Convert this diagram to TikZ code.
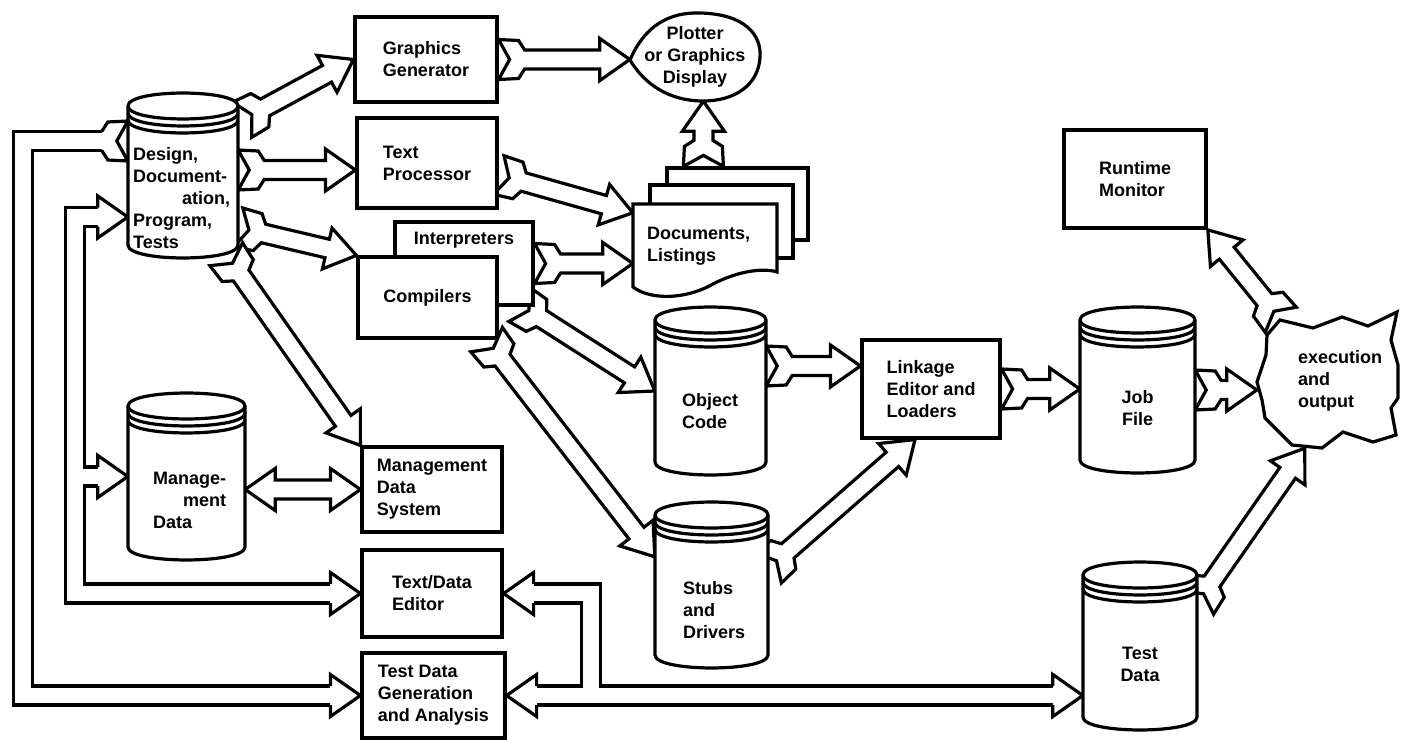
\documentclass[tikz,border=0pt]{standalone}
\usepackage{fontspec}
\setmainfont{Liberation Sans}
\usetikzlibrary{calc,decorations.markings}
\pgfdeclarelayer{bg}
\pgfsetlayers{bg,main}
\newcommand\lbl{\fontsize{18}{22}\selectfont\bfseries}
\newcommand\fatTH{%
  \pgfmathsetmacro\fahl{\pgfdecoratedpathlength/2}%
  \draw[ln, fill=white] (-\fahl,20) -- (-\fahl+20,19) -- (-\fahl+26,9.5) -- (\fahl-30,9.5) -- (\fahl-30,21) -- (\fahl,0) -- (\fahl-30,-21) -- (\fahl-30,-9.5) -- (-\fahl+26,-9.5) -- (-\fahl+20,-19) -- (-\fahl,-20) -- (-\fahl+11,0) -- cycle;}
\newcommand\fatHH{%
  \pgfmathsetmacro\fahl{\pgfdecoratedpathlength/2}%
  \draw[ln, fill=white] (-\fahl,0) -- (-\fahl+30,21) -- (-\fahl+30,9.5) -- (\fahl-30,9.5) -- (\fahl-30,21) -- (\fahl,0) -- (\fahl-30,-21) -- (\fahl-30,-9.5) -- (-\fahl+30,-9.5) -- (-\fahl+30,-21) -- cycle;}
\tikzset{
  ln/.style={line width=3.2pt, line join=miter},
  box/.style={ln, draw, fill=white, align=left, font=\lbl, inner sep=0pt},
  page/.style={ln, draw, fill=white, inner sep=0pt},
  txt/.style={align=left, font=\lbl, inner sep=0pt},
  fatarrow/.style={decoration={markings, mark=at position 0.5 with {\fatTH}}, decorate},
  fatdouble/.style={decoration={markings, mark=at position 0.5 with {\fatHH}}, decorate},
  busk/.style={line width=22.2pt, line join=miter},
  busw/.style={white, line width=15.8pt, line join=miter},
  bhead/.pic={\draw[ln, fill=white] (-30,9.5) -- (-30,21) -- (0,0) -- (-30,-21) -- (-30,-9.5);},
  btail/.pic={\draw[ln, fill=white] (26,9.5) -- (20,19) -- (0,20) -- (11,0) -- (0,-20) -- (20,-19) -- (26,-9.5);},
}
\newcommand\cylinder[5]{%
  \pgfmathsetmacro\cyL{#2-#4/2}%
  \pgfmathsetmacro\cyR{#2+#4/2}%
  \pgfmathsetmacro\cyT{#3+13}%
  \pgfmathsetmacro\cyB{#3+#5-13}%
  \draw[ln, fill=white] (\cyL,\cyT) .. controls (\cyL,\cyT-17.3) and (\cyR,\cyT-17.3) .. (\cyR,\cyT) -- (\cyR,\cyB) .. controls (\cyR,\cyB+17.3) and (\cyL,\cyB+17.3) .. (\cyL,\cyB) -- cycle;
  \draw[ln] (\cyL,\cyT) .. controls (\cyL,\cyT+17.3) and (\cyR,\cyT+17.3) .. (\cyR,\cyT);
  \draw[ln] (\cyL,\cyT+7) .. controls (\cyL,\cyT+24.3) and (\cyR,\cyT+24.3) .. (\cyR,\cyT+7);
  \draw[ln] (\cyL,\cyT+14) .. controls (\cyL,\cyT+31.3) and (\cyR,\cyT+31.3) .. (\cyR,\cyT+14);
  \node[inner sep=0pt, minimum width=#4pt, minimum height=#5pt] (#1) at (#2,{#3+#5/2}) {};
}
\begin{document}
\begin{tikzpicture}[x=1pt,y=-1pt]
\useasboundingbox (0,0) rectangle (1401,741);
% boxes
\node[box, minimum width=138pt, minimum height=83pt] (interp) at (464,263.5) {};
\node[txt] (interpt) at (464,240) {Interpreters};
\node[box, minimum width=139pt, minimum height=81pt] (comp) at (427.5,297.5) {Compilers};
\node[box, minimum width=142pt, minimum height=85pt] (gg) at (426,59.5) {Graphics\\Generator};
\node[box, minimum width=140pt, minimum height=90pt] (tp) at (427,163) {Text\\Processor};
\node[box, minimum width=140pt, minimum height=85pt] (mds) at (432,489.5) {Management\\Data\\System};
\node[box, minimum width=140pt, minimum height=87pt] (tde) at (432,593.5) {Text/Data\\Editor};
\node[box, minimum width=143pt, minimum height=85pt] (tdg) at (433.5,695.5) {Test Data\\Generation\\and Analysis};
\node[box, minimum width=138pt, minimum height=98pt] (link) at (931,389) {Linkage\\Editor and\\Loaders};
\node[box, minimum width=142pt, minimum height=98pt] (rm) at (1135,179) {Runtime\\Monitor};
% cylinders
\cylinder{db}{183}{93}{110}{165}
\cylinder{md}{186.5}{393}{117}{167}
\cylinder{oc}{710.5}{307}{111}{168}
\cylinder{stubs}{711.5}{502}{113}{166}
\cylinder{job}{1137.5}{307}{115}{166}
\cylinder{td}{1140}{562}{114}{168}
\node[txt, anchor=west] (dbt) at (133,198) {Design,\\Document-\\\hspace*{49pt}ation,\\Program,\\Tests};
\node[txt, anchor=west] (mdt) at (153,500) {Manage-\\\hspace*{30pt}ment\\Data};
\node[txt, anchor=west] (oct) at (682,411) {Object\\Code};
\node[txt, anchor=west] (stt) at (683,610) {Stubs\\and\\Drivers};
\node[txt, align=center] (jobt) at (1137.5,408) {Job\\File};
\node[txt, align=center] (tdt) at (1140,664) {Test\\Data};
% documents
\node[page, minimum width=141pt, minimum height=72pt] (pg3) at (737.5,204) {};
\node[page, minimum width=143pt, minimum height=73pt] (pg2) at (721.5,221.5) {};
\draw[ln, fill=white] (633,204) -- (777,204) -- (777,272) .. controls (765,268) and (740,270) .. (713,284) .. controls (685,300) and (650,300) .. (633,287) -- cycle;
\node[inner sep=0pt, minimum width=144pt, minimum height=88pt] (doc1) at (705,248) {};
\node[txt, anchor=west] (doct) at (647,246) {Documents,\\Listings};
% plotter
\draw[ln, fill=white] (630,60) .. controls (645,25) and (670,12) .. (700,13) .. controls (745,14) and (762,35) .. (760,58) .. controls (758,85) and (735,101) .. (703,101) .. controls (670,101) and (645,85) .. (630,60) -- cycle;
\node[txt, align=center, minimum width=130pt, minimum height=88pt] (plot) at (695,57) {Plotter\\or Graphics\\Display};
% execution
\draw[ln, fill=white] (1280,320) -- (1313,328) -- (1342,317) -- (1368,326) -- (1397,312) -- (1391,340) -- (1398,365) -- (1398,398) -- (1391,408) -- (1396,435) -- (1373,442) -- (1343,432) -- (1322,448) -- (1292,445) -- (1265,418) -- (1262,400) -- (1257,382) -- (1266,355) -- (1267,335) -- cycle;
\node[inner sep=0pt, minimum width=144pt, minimum height=136pt] (exec) at (1329,380) {};
\node[txt, anchor=west] (exect) at (1298,381) {execution\\and\\output};
\begin{pgfonlayer}{bg}
% straight fat arrows
\path[fatarrow] ($(db.north east)+(4,27)$) -- (gg.west);
\path[fatarrow] ($(db.east)+(0,-5.5)$) -- ($(tp.west)+(0,7)$);
\path[fatarrow] ($(db.east)+(0,52)$) -- (comp.north west);
\path[fatarrow] ($(db.south east)+(-12,-4)$) -- (mds.north west);
\path[fatarrow] (gg.east) -- (gg.east -| plot.west);
\path[fatarrow] ($(tp.east)+(0,12)$) -- ($(doc1.north west)+(0,9)$);
\path[fatarrow] (interp.east) -- (interp.east -| doc1.west);
\path[fatarrow] ($(interp.south east)+(-15,-2)$) -- (oc.west);
\coordinate (l1) at ($(link.west)+(0,-23)$);
\path[fatarrow] (oc.east |- l1) -- (l1);
\path[fatarrow] (link.east) -- (link.east -| job.west);
\path[fatarrow] (job.east) -- (job.east -| exec.west);
\path[fatarrow] ($(exec.north west)+(24,8)$) -- (rm.south east);
\path[fatarrow] ($(td.north east)+(0,41)$) -- ($(exec.south west)+(48,0)$);
\path[fatarrow] ($(stubs.east)+(0,-17)$) -- ($(link.south)+(-16,0)$);
\path[fatarrow] ($(comp.south east)+(-12,0)$) -- ($(stubs.north west)+(0,55)$);
\coordinate (p3t) at ($(pg3.north west)+(38,0)$);
\path[fatarrow] (p3t) -- (p3t |- plot.south);
\path[fatdouble] (md.east |- mds.west) -- (mds.west);
% buses
\coordinate (a0) at ($(db.west)+(0,-34.5)$);
\coordinate (b0) at ($(db.west)+(0,41.5)$);
\coordinate (bx) at ($(b0)+(-53,0)$);
\coordinate (bj) at ($(tde.east)+(87,0)$);
\coordinate (tdin) at (td.west |- tdg.east);
\def\busA{($(a0)+(-26,0)$) -- ++(-79,0) |- ($(tdg.west)+(-30,0)$)}
\def\busB{($(b0)+(-30,0)$) -- (bx) |- ($(tde.west)+(-30,0)$)}
\def\busBm{(bx |- md.west) -- ($(md.west)+(-30,0)$)}
\def\busC{($(tde.east)+(30,0)$) -- (bj) -- (bj |- tdg.east)}
\def\busD{($(tdg.east)+(30,0)$) -- ($(tdin)+(-30,0)$)}
\draw[busk] \busA; \draw[busk] \busB; \draw[busk] \busBm; \draw[busk] \busC; \draw[busk] \busD;
\draw[busw] \busA; \draw[busw] \busB; \draw[busw] \busBm; \draw[busw] \busC; \draw[busw] \busD;
\pic[rotate=180] at (a0) {btail};
\pic at (tdg.west) {bhead};
\pic at (b0) {bhead};
\pic at (md.west) {bhead};
\pic at (tde.west) {bhead};
\pic[rotate=180] at (tde.east) {bhead};
\pic[rotate=180] at (tdg.east) {bhead};
\pic at (tdin) {bhead};
\end{pgfonlayer}
\end{tikzpicture}
\end{document}
